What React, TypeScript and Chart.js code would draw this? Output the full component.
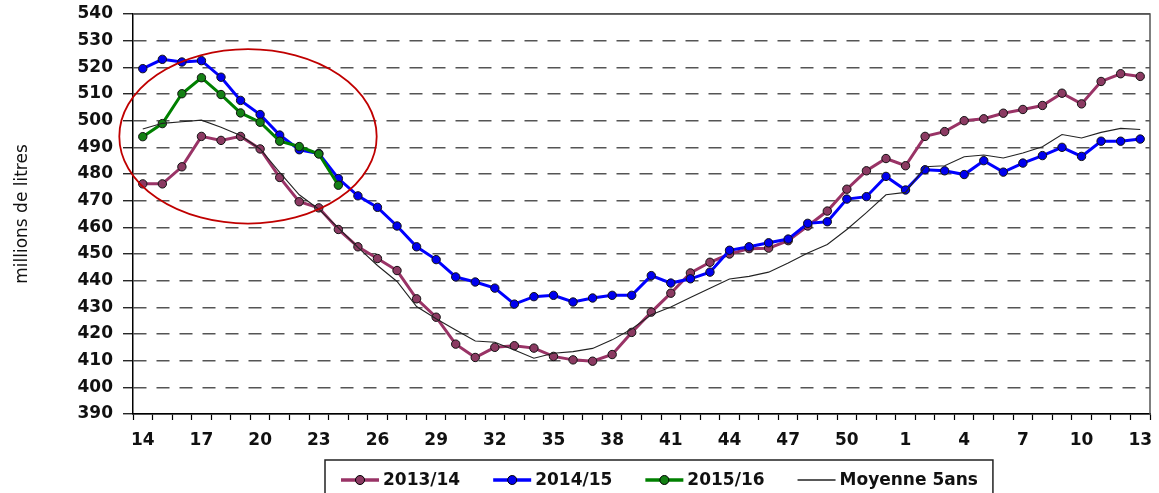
import React, { useEffect, useRef } from "react";
import { Chart, registerables } from "chart.js";

Chart.register(...registerables);

const weeks = [
  "14", "15", "16", "17", "18", "19", "20", "21", "22", "23", "24", "25", "26",
  "27", "28", "29", "30", "31", "32", "33", "34", "35", "36", "37", "38", "39",
  "40", "41", "42", "43", "44", "45", "46", "47", "48", "49", "50", "51", "52",
  "1", "2", "3", "4", "5", "6", "7", "8", "9", "10", "11", "12", "13",
];

const s2013 = [
  476.3, 476.3, 482.7, 494.1, 492.6, 494.1, 489.4, 478.7, 469.6, 467.3, 459.2, 452.7, 448.3,
  443.8, 433.2, 426.3, 416.2, 411.2, 415.0, 415.6, 414.7, 411.6, 410.3, 409.8, 412.3, 420.6,
  428.2, 435.3, 442.9, 446.9, 450.0, 452.0, 452.2, 455.0, 460.5, 466.1, 474.3, 481.2, 485.8,
  483.1, 494.1, 495.9, 500.0, 500.7, 502.8, 504.2, 505.7, 510.3, 506.3, 514.7, 517.6, 516.6,
];

const s2014 = [
  519.5, 523.0, 522.0, 522.5, 516.3, 507.6, 502.3, 494.6, 489.1, 487.7, 478.3, 471.8, 467.5,
  460.5, 452.7, 447.9, 441.4, 439.5, 437.2, 431.2, 434.0, 434.5, 432.0, 433.5, 434.5, 434.5,
  441.9, 439.1, 440.7, 443.2, 451.4, 452.7, 454.2, 455.6, 461.5, 462.1, 470.6, 471.5, 479.1,
  474.0, 481.6, 481.2, 479.8, 485.0, 480.7, 484.1, 486.9, 490.0, 486.6, 492.3, 492.3, 493.1,
];

const s2015 = [
  494.0, 498.9, 510.1, 516.1, 509.8, 502.9, 499.4, 492.3, 490.3, 487.5, 475.8,
];

const avg5 = [
  496.9, 499.0, 499.6, 500.2, 497.5, 494.4, 489.4, 480.6, 472.2, 466.8, 459.8, 452.5, 445.7,
  439.7, 430.3, 425.7, 421.5, 417.4, 416.9, 414.0, 410.9, 412.8, 413.4, 414.6, 417.8, 421.9,
  427.2, 430.1, 433.7, 437.2, 440.6, 441.6, 443.2, 446.6, 450.4, 453.6, 459.2, 465.5, 472.2,
  473.1, 482.7, 483.1, 486.5, 487.1, 486.0, 487.9, 490.2, 494.8, 493.5, 495.6, 497.1, 496.7,
];

const seriesLabels = ["2013/14", "2014/15", "2015/16", "Moyenne 5ans"];
const yMin = 390;
const yMax = 540;
const yStep = 10;

// ellipse annotation (in data units: category index / value)
const ellipseCenterIdx = 5.38;
const ellipseCenterVal = 494.1;
const ellipseRadiusIdx = 6.58;
const ellipseRadiusVal = 32.7;

const FONT = '"DejaVu Sans", sans-serif';

const framePlugin = {
  id: "frame",
  beforeDatasetsDraw(chart: any) {
    const { ctx, chartArea } = chart;
    ctx.save();
    ctx.strokeStyle = "#555";
    ctx.lineWidth = 1.5;
    ctx.beginPath();
    ctx.moveTo(chartArea.left, chartArea.top);
    ctx.lineTo(chartArea.right, chartArea.top);
    ctx.lineTo(chartArea.right, chartArea.bottom);
    ctx.stroke();
    ctx.restore();
  },
};

const ellipsePlugin = {
  id: "ellipse",
  afterDatasetsDraw(chart: any) {
    const { ctx } = chart;
    const xs = chart.scales.x;
    const ys = chart.scales.y;
    const cx = xs.getPixelForValue(ellipseCenterIdx);
    const cy = ys.getPixelForValue(ellipseCenterVal);
    const rx = xs.getPixelForValue(ellipseCenterIdx + ellipseRadiusIdx) - cx;
    const ry = cy - ys.getPixelForValue(ellipseCenterVal + ellipseRadiusVal);
    ctx.save();
    ctx.strokeStyle = "#C00000";
    ctx.lineWidth = 1.8;
    ctx.beginPath();
    ctx.ellipse(cx, cy, rx, ry, 0, 0, Math.PI * 2);
    ctx.stroke();
    ctx.restore();
  },
};

const legendPlugin = {
  id: "boxLegend",
  afterDraw(chart: any) {
    const { ctx, chartArea } = chart;
    ctx.save();
    ctx.font = `bold 17px ${FONT}`;
    const items = chart.data.datasets.map((ds: any) => ({
      label: ds.label,
      color: ds.borderColor,
      fill: ds.pointBackgroundColor,
      lw: ds.borderWidth,
      marker: ds.pointRadius > 0,
    }));
    const sample = 38;
    const gap = 4;
    const spacing = 33;
    const padL = 16;
    const padR = 15;
    const widths = items.map((it: any) => sample + gap + ctx.measureText(it.label).width);
    const total =
      padL + padR + widths.reduce((a: number, b: number) => a + b, 0) + spacing * (items.length - 1);
    const cx = (chartArea.left + chartArea.right) / 2 + 17;
    const left = Math.round(cx - total / 2);
    const top = chartArea.bottom + 46;
    ctx.strokeStyle = "#222";
    ctx.lineWidth = 1.5;
    ctx.strokeRect(left, top, total, 80);
    let x = left + padL;
    const my = top + 20;
    items.forEach((it: any, i: number) => {
      ctx.strokeStyle = it.color;
      ctx.lineWidth = it.marker ? 3.5 : 1.5;
      ctx.beginPath();
      ctx.moveTo(x, my);
      ctx.lineTo(x + sample, my);
      ctx.stroke();
      if (it.marker) {
        ctx.beginPath();
        ctx.arc(x + sample / 2, my, 4.5, 0, Math.PI * 2);
        ctx.fillStyle = it.fill;
        ctx.fill();
        ctx.lineWidth = 1;
        ctx.strokeStyle = "#000";
        ctx.stroke();
      }
      ctx.fillStyle = "#111";
      ctx.textBaseline = "middle";
      ctx.textAlign = "left";
      ctx.fillText(it.label, x + sample + gap, my + 1);
      x += widths[i] + spacing;
    });
    ctx.restore();
  },
};

export default function App() {
  const ref = useRef<HTMLCanvasElement | null>(null);

  useEffect(() => {
    if (!ref.current) return;
    const chart = new Chart(ref.current, {
      type: "line",
      data: {
        labels: weeks,
        datasets: [
          {
            label: seriesLabels[0],
            data: s2013,
            borderColor: "#993366",
            backgroundColor: "#8B3A62",
            pointBackgroundColor: "#8B3A62",
            pointBorderColor: "#111",
            pointBorderWidth: 1,
            pointRadius: 4.2,
            borderWidth: 3,
            tension: 0,
            order: 3,
          },
          {
            label: seriesLabels[1],
            data: s2014,
            borderColor: "#0000FF",
            backgroundColor: "#0000EE",
            pointBackgroundColor: "#0000EE",
            pointBorderColor: "#111",
            pointBorderWidth: 1,
            pointRadius: 4.2,
            borderWidth: 3,
            tension: 0,
            order: 2,
          },
          {
            label: seriesLabels[2],
            data: s2015,
            borderColor: "#008000",
            backgroundColor: "#148014",
            pointBackgroundColor: "#148014",
            pointBorderColor: "#111",
            pointBorderWidth: 1,
            pointRadius: 4.2,
            borderWidth: 3,
            tension: 0,
            order: 1,
          },
          {
            label: seriesLabels[3],
            data: avg5,
            borderColor: "#222",
            backgroundColor: "#222",
            pointRadius: 0,
            borderWidth: 1.1,
            tension: 0,
            order: 0,
          },
        ],
      },
      options: {
        animation: false,
        responsive: false,
        devicePixelRatio: 1,
        layout: { padding: { left: 0, right: 9, top: 14, bottom: 39 } },
        plugins: {
          legend: { display: false },
          tooltip: { enabled: false },
        },
        scales: {
          x: {
            type: "category",
            offset: true,
            afterFit: (scale: any) => {
              scale.height = 40;
              scale.paddingLeft = 0;
              scale.paddingRight = 0;
            },
            grid: {
              offset: true,
              drawOnChartArea: false,
              drawTicks: true,
              tickLength: 6,
              tickColor: "#000",
              tickWidth: 1.2,
            },
            border: { display: true, color: "#000", width: 1.5 },
            ticks: {
              autoSkip: false,
              maxRotation: 0,
              padding: 10,
              color: "#111",
              font: { family: FONT, size: 17, weight: "bold" },
              callback: (_v: any, i: number) => (i % 3 === 0 ? weeks[i] : ""),
            },
          },
          y: {
            min: yMin,
            max: yMax,
            afterFit: (scale: any) => {
              scale.width = 133;
              scale.paddingTop = 0;
              scale.paddingBottom = 0;
            },
            ticks: {
              stepSize: yStep,
              padding: 10,
              color: "#111",
              font: { family: FONT, size: 17, weight: "bold" },
            },
            grid: {
              color: "#555",
              lineWidth: 1.5,
              drawTicks: true,
              tickLength: 10,
              tickColor: "#000",
              tickWidth: 1.2,
            },
            border: {
              display: true,
              color: "#000",
              width: 1.5,
              dash: (ctx: any) =>
                ctx.tick && (ctx.tick.value === yMax || ctx.tick.value === yMin) ? [] : [13, 10],
            },
            title: {
              display: true,
              text: "millions de litres",
              color: "#111",
              font: { family: FONT, size: 17 },
              padding: { top: 12, bottom: 0 },
            },
          },
        },
      },
      plugins: [framePlugin, ellipsePlugin, legendPlugin],
    } as any);
    return () => chart.destroy();
  }, []);

  return (
    <div style={{ position: "fixed", left: 0, top: 0, width: 1159, height: 493, background: "#fff" }}>
      <canvas ref={ref} width={1159} height={493} />
    </div>
  );
}
